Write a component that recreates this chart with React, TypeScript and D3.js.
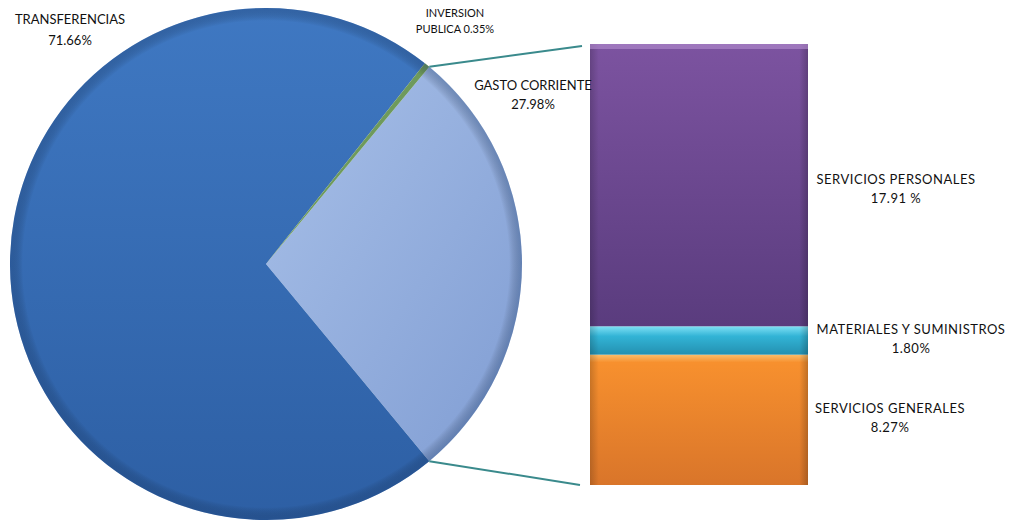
import React from "react";
import * as d3 from "d3";

const pieLabels = ["GASTO CORRIENTE", "TRANSFERENCIAS", "INVERSION PUBLICA"];
const pieValues = [27.98, 71.66, 0.35];
const barLabels = ["SERVICIOS GENERALES", "MATERIALES Y SUMINISTROS", "SERVICIOS PERSONALES"];
const barValues = [8.27, 1.8, 17.91];
const barValueTexts = ["8.27%", "1.80%", "17.91 %"];

const W = 1011;
const H = 520;
const cx = 266;
const cy = 264;
const R = 256;
const barX0 = 590;
const barX1 = 808;
const barTop = 44;
const barBottom = 485;

export default function App() {
  if (typeof document !== "undefined") document.body.style.margin = "0";
  const total = pieValues.reduce((a, b) => a + b, 0);
  const gastoAngle = (pieValues[0] / total) * 2 * Math.PI;
  const start = Math.PI / 2 - gastoAngle / 2;
  const pie = d3.pie<number>().sort(null).startAngle(start).endAngle(start + 2 * Math.PI);
  const arcs = pie(pieValues);
  const arc = d3.arc<d3.PieArcDatum<number>>().innerRadius(0).outerRadius(R);

  const barSum = barValues.reduce((a, b) => a + b, 0);
  const y = d3.scaleLinear().domain([0, barSum]).range([barBottom, barTop]);
  let acc = 0;
  const segs = barValues.map((v) => {
    const s = { y0: y(acc), y1: y(acc + v) };
    acc += v;
    return s;
  });

  const g = arcs[0];
  const p0 = [cx + R * Math.sin(g.startAngle), cy - R * Math.cos(g.startAngle)];
  const p1 = [cx + R * Math.sin(g.endAngle), cy - R * Math.cos(g.endAngle)];

  const fills = ["url(#gGasto)", "url(#gTrans)", "#6e9a5c"];
  const barFills = ["url(#gOrange)", "url(#gCyan)", "url(#gPurple)"];
  const font = "Lato, 'Open Sans', sans-serif";
  const pos = [
    { x: 890, y: 413 },
    { x: 911, y: 334 },
    { x: 896, y: 184 },
  ];

  return (
    <svg width={W} height={H} style={{ display: "block", background: "#fff" }} fontFamily={font}>
      <defs>
        <linearGradient id="gTrans" x1="0" y1="0" x2="0" y2="1">
          <stop offset="0" stopColor="#3f78c2" />
          <stop offset="1" stopColor="#2d5fa4" />
        </linearGradient>
        <radialGradient id="gTransRim" cx="0.5" cy="0.5" r="0.5">
          <stop offset="0.95" stopColor="#000" stopOpacity="0" />
          <stop offset="1" stopColor="#1a3d70" stopOpacity="0.35" />
        </radialGradient>
        <linearGradient id="gGasto" x1="0" y1="0" x2="1" y2="1">
          <stop offset="0" stopColor="#a8c0e8" />
          <stop offset="1" stopColor="#809dd3" />
        </linearGradient>
        <linearGradient id="gPurple" x1="0" y1="0" x2="0" y2="1">
          <stop offset="0" stopColor="#7c53a0" />
          <stop offset="1" stopColor="#5a3c7e" />
        </linearGradient>
        <linearGradient id="gCyan" x1="0" y1="0" x2="0" y2="1">
          <stop offset="0" stopColor="#7fe0f5" />
          <stop offset="0.35" stopColor="#32b4d6" />
          <stop offset="1" stopColor="#2490b0" />
        </linearGradient>
        <linearGradient id="gOrange" x1="0" y1="0" x2="0" y2="1">
          <stop offset="0" stopColor="#fbbd6a" />
          <stop offset="0.06" stopColor="#f7902e" />
          <stop offset="1" stopColor="#d9752a" />
        </linearGradient>
        <linearGradient id="gSide" x1="0" y1="0" x2="1" y2="0">
          <stop offset="0" stopColor="#000" stopOpacity="0.18" />
          <stop offset="0.04" stopColor="#000" stopOpacity="0" />
          <stop offset="0.96" stopColor="#000" stopOpacity="0" />
          <stop offset="1" stopColor="#000" stopOpacity="0.22" />
        </linearGradient>
      </defs>

      <g transform={`translate(${cx},${cy})`}>
        {arcs.map((a, i) => (
          <path key={i} d={arc(a) || ""} fill={fills[i]} />
        ))}
        <circle r={R} fill="url(#gTransRim)" />
      </g>

      <line x1={p0[0]} y1={p0[1]} x2={barX0 - 8} y2={barTop + 2} stroke="#3a8a8c" strokeWidth={2} />
      <line x1={p1[0]} y1={p1[1]} x2={barX0 - 10} y2={barBottom} stroke="#3a8a8c" strokeWidth={2} />

      {segs.map((s, i) => (
        <rect key={i} x={barX0} y={s.y1} width={barX1 - barX0} height={s.y0 - s.y1} fill={barFills[i]} />
      ))}
      <rect x={barX0} y={barTop} width={barX1 - barX0} height={barBottom - barTop} fill="url(#gSide)" />
      <rect x={barX0} y={barTop} width={barX1 - barX0} height={5} fill="#b58fd0" opacity={0.6} />

      <g fontSize={13} fill="#111" textAnchor="middle">
        <text x={70} y={24}>{pieLabels[1]}</text>
        <text x={70} y={45}>{`${pieValues[1].toFixed(2)}%`}</text>
        <text x={533} y={90}>{pieLabels[0]}</text>
        <text x={533} y={109}>{`${pieValues[0].toFixed(2)}%`}</text>
        <text x={455} y={17} fontSize={11}>INVERSION</text>
        <text x={455} y={33} fontSize={11}>{`PUBLICA ${pieValues[2].toFixed(2)}%`}</text>
        {[2, 1, 0].map((i) => (
          <g key={i} letterSpacing={0.5}>
            <text x={pos[i].x} y={pos[i].y}>{barLabels[i]}</text>
            <text x={pos[i].x} y={pos[i].y + 19}>{barValueTexts[i]}</text>
          </g>
        ))}
      </g>
    </svg>
  );
}
